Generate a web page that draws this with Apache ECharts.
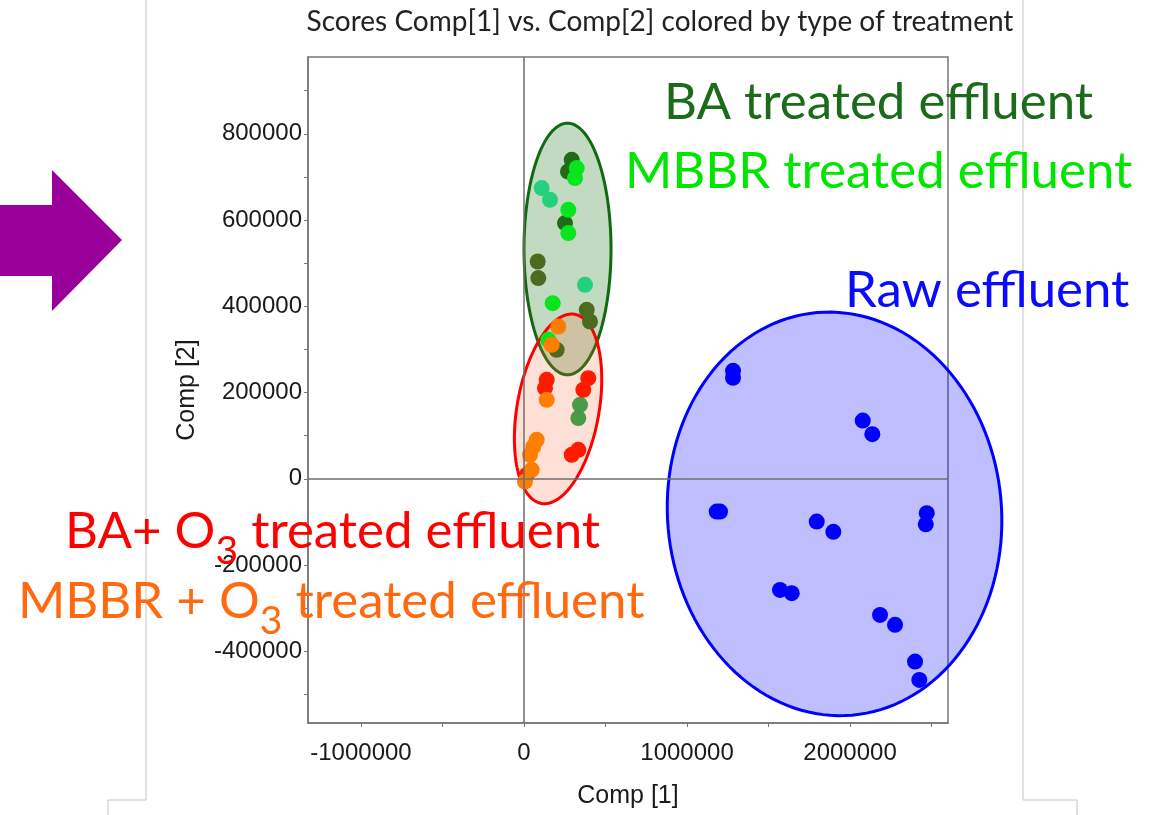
<!DOCTYPE html>
<html>
<head>
<meta charset="utf-8">
<title>Scores Comp[1] vs. Comp[2]</title>
<script src="https://cdn.jsdelivr.net/npm/echarts@6/dist/echarts.min.js"></script>
<style>
  html, body { margin: 0; padding: 0; background: #fff; }
  #main { width: 1160px; height: 815px; }
</style>
</head>
<body>
<div id="main"></div>
<script>
// ticks and labels of the two axes
const xTickValues = [-1000000, -500000, 0, 500000, 1000000, 1500000, 2000000, 2500000];
const xLabelValues = [-1000000, 0, 1000000, 2000000];
const yTickValues = [-500000, -400000, -300000, -200000, -100000, 0, 100000, 200000, 300000, 400000, 500000, 600000, 700000, 800000, 900000];
const yLabelValues = [-400000, -200000, 0, 200000, 400000, 600000, 800000];

// scores [Comp 1, Comp 2] per group of samples
const baDark = [[292600, 739700], [269900, 712600], [251500, 592900]];
const baOlive = [[84000, 503900], [87700, 465400], [384700, 391900], [404900, 364800], [200600, 299100]];
const baLight = [[343600, 171600], [333100, 140800]];
const mbbrBright = [[323300, 720400], [312900, 697300], [271800, 623800], [271800, 569700], [176100, 407400], [149100, 322300]];
const mbbrTeal = [[108600, 674100], [159500, 646900], [374200, 449800]];
const baO3 = [[139300, 229600], [128800, 210300], [394500, 233500], [363800, 206400], [333100, 67200], [292600, 55700], [16600, 9300]];
const mbbrO3 = [[210400, 353200], [169900, 310700], [139300, 183200], [77900, 90400], [57100, 74900], [36800, 55700], [47200, 20900], [6100, -6300]];
const rawEffluent = [
  [1282200, 250400], [1282200, 234200], [2077900, 135200], [2136800, 103700],
  [1182200, -75800], [1202500, -75800], [1795700, -99000], [1897600, -122900],
  [2470600, -79500], [2464400, -105500], [1570600, -257400], [1642300, -265000],
  [2184100, -315400], [2276100, -338500], [2398800, -423600], [2425200, -466100]
];

// ellipses: [centre Comp 1, centre Comp 2, half width, half height, tilt in degrees]
const ellipseBio = [[266900, 532900, 266900, 291700, 0]];
const ellipseOzone = [[209000, 162300, 251500, 222600, 10]];
const ellipseRaw = [[1905000, -81200, 1024500, 468400, -5]];

const labelColor = '#1a1a1a';
const axisColor = '#777';
const bigFont = 'Lato, "Noto Sans", sans-serif';

function ellipseRenderer(stroke, fill) {
  return function (params, api) {
    const c = api.coord([api.value(0), api.value(1)]);
    const r = api.size([api.value(2), api.value(3)]);
    const a = api.value(4) * Math.PI / 180;
    const pts = [];
    for (let i = 0; i < 144; i++) {
      const t = i / 144 * Math.PI * 2;
      const ex = r[0] * Math.cos(t);
      const ey = r[1] * Math.sin(t);
      pts.push([c[0] + ex * Math.cos(a) - ey * Math.sin(a), c[1] + ex * Math.sin(a) + ey * Math.cos(a)]);
    }
    return {
      type: 'polygon',
      shape: { points: pts },
      style: { fill: fill, stroke: stroke, lineWidth: 3 }
    };
  };
}

function dots(name, data, color) {
  return {
    name: name,
    type: 'scatter',
    data: data,
    symbolSize: 16,
    itemStyle: { color: color, opacity: 1 },
    silent: true
  };
}

function ellipse(name, data, stroke, fill) {
  return {
    name: name,
    type: 'custom',
    data: data,
    encode: { x: 0, y: 1 },
    renderItem: ellipseRenderer(stroke, fill),
    clip: false,
    silent: true
  };
}

function bigText(text, x, y, color) {
  return {
    type: 'text',
    x: x,
    y: y,
    z: 100,
    style: { text: text, fill: color, font: '51px ' + bigFont, align: 'left', verticalAlign: 'middle' }
  };
}

// O3 with a lowered, smaller 3
function ozoneText(first, last, x, y, color) {
  return {
    type: 'text',
    x: x,
    y: y,
    z: 100,
    style: {
      text: '{m|' + first + '}{s|3}{m|' + last + '}',
      fill: color,
      align: 'left',
      verticalAlign: 'top',
      rich: {
        m: { fontSize: 51, fontFamily: bigFont, lineHeight: 52, verticalAlign: 'top', fill: color },
        s: { fontSize: 39, fontFamily: bigFont, lineHeight: 90, fill: color }
      }
    }
  };
}

const chart = echarts.init(document.getElementById('main'));
const option = {
  animation: false,
  backgroundColor: '#fff',
  textStyle: { fontFamily: '"Liberation Sans", Arial, sans-serif' },
  grid: {
    left: 308, top: 57, width: 640, height: 666,
    show: true, borderColor: axisColor, borderWidth: 1.5,
    containLabel: false, outerBoundsMode: 'none'
  },
  xAxis: {
    type: 'value',
    min: -1325000,
    max: 2601000,
    name: 'Comp [1]',
    nameLocation: 'middle',
    nameGap: 61,
    nameTextStyle: { fontSize: 25, color: labelColor },
    axisLine: { show: true, onZero: false, lineStyle: { color: axisColor, width: 1.5 } },
    axisTick: { show: true, length: 4, customValues: xTickValues, lineStyle: { color: axisColor } },
    axisLabel: { customValues: xLabelValues, fontSize: 24, color: labelColor, margin: 18, formatter: v => String(v) },
    splitLine: { show: false }
  },
  yAxis: {
    type: 'value',
    min: -566000,
    max: 978000,
    name: 'Comp [2]',
    nameLocation: 'middle',
    nameGap: 108,
    nameTextStyle: { fontSize: 25, color: labelColor },
    axisLine: { show: true, onZero: false, lineStyle: { color: axisColor, width: 1.5 } },
    axisTick: { show: true, length: 4, customValues: yTickValues, lineStyle: { color: axisColor } },
    axisLabel: { customValues: yLabelValues, fontSize: 24, color: labelColor, margin: 6, formatter: v => String(v) },
    splitLine: { show: false }
  },
  graphic: [
    // slide decoration
    { type: 'polygon', shape: { points: [[0, 205], [52, 205], [52, 170], [122, 240], [52, 311], [52, 276], [0, 276]] }, style: { fill: '#990099' } },
    { type: 'polyline', shape: { points: [[146, 0], [146, 800], [108, 800], [108, 815]] }, style: { stroke: '#c4c4c4', lineWidth: 1, fill: null } },
    { type: 'polyline', shape: { points: [[1023, 0], [1023, 800], [1077, 800], [1077, 815]] }, style: { stroke: '#c4c4c4', lineWidth: 1, fill: null } },
    {
      type: 'text', x: 660, y: 22, z: 100,
      style: { text: 'Scores Comp[1] vs. Comp[2] colored by type of treatment', fill: '#222', font: '28px ' + bigFont, align: 'center', verticalAlign: 'middle' }
    },
    bigText('BA treated effluent', 664, 103, '#1b6b1b'),
    bigText('MBBR treated effluent', 625, 172, '#00e600'),
    bigText('Raw effluent', 845, 291, '#0a0aff'),
    ozoneText('BA+ O', ' treated effluent', 65, 506, '#ff0000'),
    ozoneText('MBBR + O', ' treated effluent', 18, 576, '#ff6a10')
  ],
  series: [
    {
      type: 'line',
      data: [],
      silent: true,
      markLine: {
        silent: true,
        symbol: 'none',
        label: { show: false },
        lineStyle: { color: '#6e6e6e', width: 1.5, type: 'solid' },
        data: [{ xAxis: 0 }, { yAxis: 0 }]
      }
    },
    dots('BA treated effluent', baDark, '#1f6b16'),
    dots('BA treated effluent (2)', baOlive, '#4c6b1e'),
    dots('BA treated effluent (3)', baLight, '#4a9a48'),
    dots('MBBR treated effluent', mbbrBright, '#06e61c'),
    dots('MBBR treated effluent (2)', mbbrTeal, '#25d07c'),
    dots('BA + O3 treated effluent', baO3, '#ff1a00'),
    dots('MBBR + O3 treated effluent', mbbrO3, '#ff7d00'),
    dots('Raw effluent', rawEffluent, '#0000ff'),
    ellipse('Raw effluent ellipse', ellipseRaw, '#0000ff', 'rgba(0,0,255,0.25)'),
    ellipse('Biological ellipse', ellipseBio, '#116a11', 'rgba(0,100,0,0.24)'),
    ellipse('Ozone ellipse', ellipseOzone, '#ff0000', 'rgba(255,100,50,0.2)')
  ]
};
chart.setOption(option);
</script>
</body>
</html>
